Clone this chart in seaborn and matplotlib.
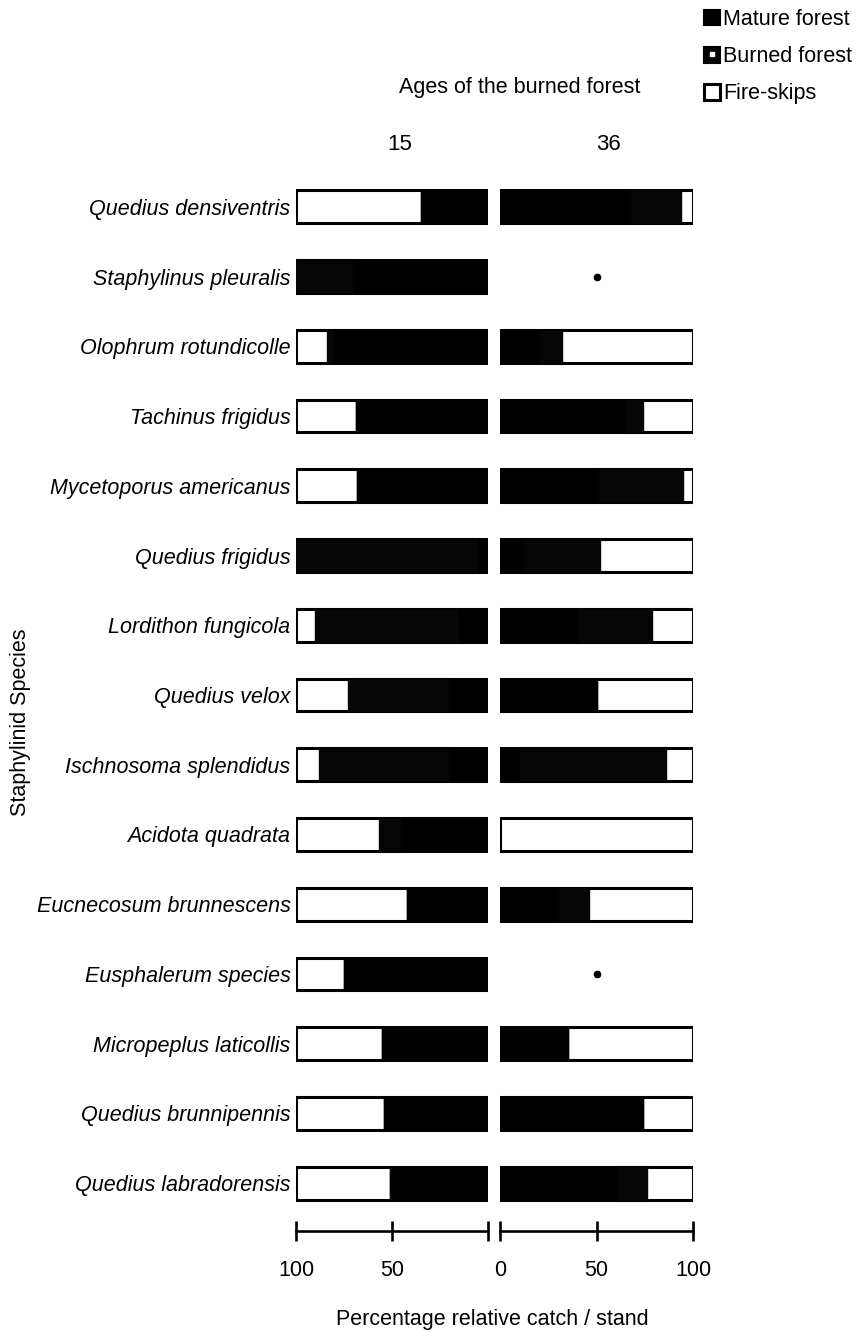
import numpy as np
import pandas as pd
import matplotlib
matplotlib.use("Agg")
import matplotlib.pyplot as plt
import seaborn as sns
from matplotlib.patches import Patch
from matplotlib.lines import Line2D

# Staphylinid species, top to bottom
species = [
    "Quedius densiventris", "Staphylinus pleuralis", "Olophrum rotundicolle",
    "Tachinus frigidus", "Mycetoporus americanus", "Quedius frigidus",
    "Lordithon fungicola", "Quedius velox", "Ischnosoma splendidus",
    "Acidota quadrata", "Eucnecosum brunnescens", "Eusphalerum species",
    "Micropeplus laticollis", "Quedius brunnipennis", "Quedius labradorensis",
]

# Percentage of relative catch per stand, 15-year-old burn
mature_15 = [35, 70, 80, 69, 68, 5, 15, 20, 20, 45, 42, 75, 55, 54, 51]
burned_15 = [0, 30, 4, 0, 0, 95, 75, 53, 68, 12, 0, 0, 0, 0, 0]
skips_15 = [65, 0, 16, 31, 32, 0, 10, 27, 12, 43, 58, 25, 45, 46, 49]

# Percentage of relative catch per stand, 36-year-old burn (nan = not caught)
mature_36 = [67, np.nan, 20, 64, 50, 12, 40, 50, 10, 0, 30, np.nan, 35, 74, 60]
burned_36 = [27, np.nan, 12, 10, 45, 40, 39, 0, 76, 0, 16, np.nan, 0, 0, 16]
skips_36 = [6, np.nan, 68, 26, 5, 48, 21, 50, 14, 100, 54, np.nan, 65, 26, 24]

ages = ["15", "36"]
tick_values = [0, 50, 100]

C_MATURE = "#000000"
C_BURNED = "#050505"
C_SKIPS = "#ffffff"
FS = 15.5

sns.set_style("white")
plt.rcParams["font.family"] = ["Liberation Sans", "DejaVu Sans"]
plt.rcParams["text.color"] = "black"
plt.rcParams["axes.labelcolor"] = "black"
plt.rcParams["xtick.color"] = "black"
plt.rcParams["ytick.color"] = "black"

W, H = 859, 1332
fig = plt.figure(figsize=(W / 100, H / 100), dpi=100)


def fx(px):
    return px / W


def fy(py):
    return 1 - py / H


ax_top, ax_bot = 172, 1218
ax_l = fig.add_axes([fx(296), fy(ax_bot), fx(488) - fx(296), fy(ax_top) - fy(ax_bot)])
ax_r = fig.add_axes([fx(500), fy(ax_bot), fx(693) - fx(500), fy(ax_top) - fy(ax_bot)])


def panel_frame(mature, burned, skips):
    df = pd.DataFrame({"species": species, "mature": mature,
                       "burned": burned, "skips": skips}).dropna()
    df["c1"] = df["mature"]
    df["c2"] = df["mature"] + df["burned"]
    df["c3"] = df["c2"] + df["skips"]
    return df


bar_h = 0.47
for ax, (m, b, s) in zip([ax_l, ax_r], [(mature_15, burned_15, skips_15),
                                         (mature_36, burned_36, skips_36)]):
    df = panel_frame(m, b, s)
    sns.barplot(data=df, x="c3", y="species", order=species, orient="h",
                color=C_SKIPS, saturation=1, edgecolor="black", linewidth=2.2,
                width=bar_h, errorbar=None, ax=ax)
    sns.barplot(data=df, x="c2", y="species", order=species, orient="h",
                color=C_BURNED, saturation=1, edgecolor=C_BURNED, linewidth=1.0,
                width=bar_h, errorbar=None, ax=ax)
    sns.barplot(data=df, x="c1", y="species", order=species, orient="h",
                color=C_MATURE, saturation=1, edgecolor=C_MATURE, linewidth=1.0,
                width=bar_h, errorbar=None, ax=ax)
    for p in ax.patches:
        p.set_joinstyle("round")
    # species not caught in this stand
    for i, sp in enumerate(species):
        if sp not in set(df["species"]):
            ax.plot(50, i, "o", color="black", ms=4.5)
    ax.set_xlabel("")
    ax.set_ylabel("")
    ax.set_ylim(len(species) - 0.5, -0.5)
    for side in ["top", "right", "left"]:
        ax.spines[side].set_visible(False)
    ax.spines["bottom"].set_position(("outward", 9))
    ax.spines["bottom"].set_linewidth(1.9)
    ax.spines["bottom"].set_color("black")
    ax.set_xticks(tick_values)
    ax.tick_params(axis="x", bottom=True, direction="inout", length=15, width=1.9,
                   pad=14, labelsize=FS, colors="black")

ax_l.set_xlim(100, 0)
ax_r.set_xlim(0, 100)
ax_l.set_xticklabels(["", "50", "100"])
ax_r.set_xticklabels(["0", "50", "100"])

ax_l.tick_params(axis="y", length=0, pad=4, colors="black")
for t in ax_l.get_yticklabels():
    t.set_fontstyle("italic")
    t.set_fontsize(FS)
    t.set_color("black")
ax_r.set_yticks([])

# Titles
fig.text(fx(520), fy(88), "Ages of the burned forest", ha="center", va="center", fontsize=FS)
fig.text(fx(400), fy(144), ages[0], ha="center", va="center", fontsize=FS + 0.5)
fig.text(fx(608), fy(144), ages[1], ha="center", va="center", fontsize=FS + 0.5)
fig.text(fx(21), fy(722), "Staphylinid Species", rotation=90, ha="center", va="center", fontsize=FS)
fig.text(fx(492), fy(1320), "Percentage relative catch / stand", ha="center", va="center", fontsize=FS)

# Legend
handles = [
    Patch(facecolor=C_MATURE, edgecolor="black", linewidth=1.5),
    (Patch(facecolor=C_BURNED, edgecolor="black", linewidth=1.5),
     Line2D([], [], marker="s", ms=2.5, color="white", linestyle="none")),
    Patch(facecolor=C_SKIPS, edgecolor="black", linewidth=2.2),
]
labels = ["Mature forest", "Burned forest", "Fire-skips"]
fig.legend(handles, labels, loc="upper left", bbox_to_anchor=(fx(704), fy(9)),
           frameon=False, fontsize=FS, handlelength=0.75, handleheight=0.75,
           handletextpad=0.15, labelspacing=0.75, borderaxespad=0, borderpad=0,
           labelcolor="black")

fig.savefig("out.png", dpi=100)
